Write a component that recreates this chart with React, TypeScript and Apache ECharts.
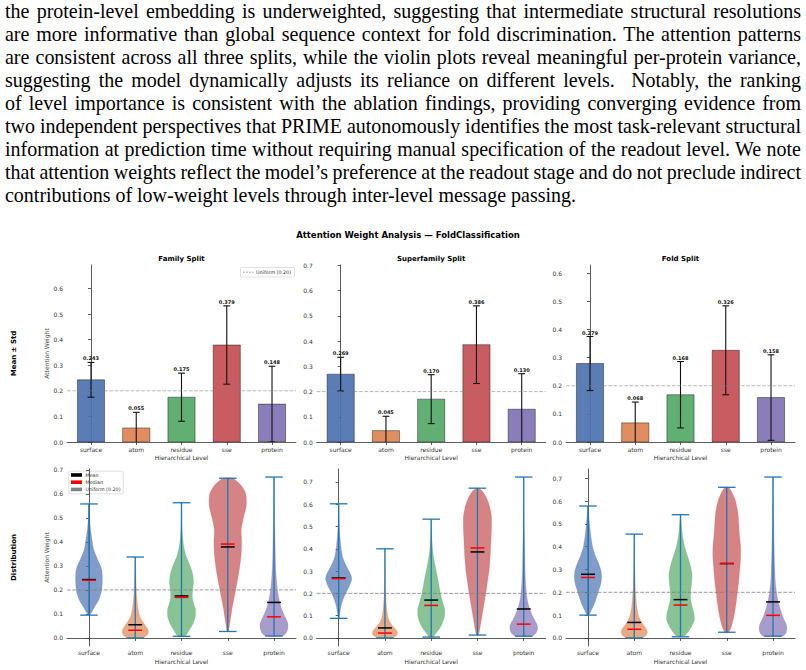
import React, { useEffect, useLayoutEffect, useRef, useState } from "react";
import * as echarts from "echarts";

// ---------- paragraph ----------
const paragraphLines = [
  "the protein-level embedding is underweighted, suggesting that intermediate structural resolutions",
  "are more informative than global sequence context for fold discrimination. The attention patterns",
  "are consistent across all three splits, while the violin plots reveal meaningful per-protein variance,",
  "suggesting the model dynamically adjusts its reliance on different levels.\u00a0 Notably, the ranking",
  "of level importance is consistent with the ablation findings, providing converging evidence from",
  "two independent perspectives that PRIME autonomously identifies the most task-relevant structural",
  "information at prediction time without requiring manual specification of the readout level. We note",
  "that attention weights reflect the model\u2019s preference at the readout stage and do not preclude indirect",
  "contributions of low-weight levels through inter-level message passing.",
];

// ---------- chart data ----------
const figureTitle = "Attention Weight Analysis \u2014 FoldClassification";
const splitTitles = ["Family Split", "Superfamily Split", "Fold Split"];
const rowTitles = ["Mean \u00b1 Std", "Distribution"];
const levels = ["surface", "atom", "residue", "sse", "protein"];
const levelColors = ["#4c72b0", "#dd8452", "#55a868", "#c44e52", "#8172b3"];
const uniformWeight = 0.2;

const familyMean = [0.243, 0.055, 0.175, 0.379, 0.148];
const familyStd = [0.068, 0.061, 0.094, 0.153, 0.148];
const familyMedian = [0.24, 0.032, 0.169, 0.391, 0.088];

const superfamilyMean = [0.269, 0.045, 0.17, 0.386, 0.13];
const superfamilyStd = [0.067, 0.057, 0.097, 0.154, 0.141];
const superfamilyMedian = [0.266, 0.022, 0.146, 0.404, 0.062];

const foldMean = [0.279, 0.068, 0.168, 0.326, 0.158];
const foldStd = [0.096, 0.074, 0.118, 0.158, 0.152];
const foldMedian = [0.265, 0.038, 0.144, 0.326, 0.099];

// violin outlines: [attention weight, full width in category units], from min to max
const familyShapes = [
  [[0.095, 0.02], [0.105, 0.1], [0.13, 0.25], [0.16, 0.43], [0.19, 0.53], [0.22, 0.57], [0.25, 0.58], [0.28, 0.56], [0.3, 0.5], [0.33, 0.36], [0.37, 0.2], [0.41, 0.13], [0.46, 0.06], [0.5, 0.03], [0.558, 0.01]],
  [[0.0, 0.3], [0.01, 0.5], [0.025, 0.57], [0.04, 0.52], [0.06, 0.38], [0.08, 0.25], [0.1, 0.17], [0.13, 0.11], [0.16, 0.08], [0.2, 0.05], [0.25, 0.03], [0.3, 0.015], [0.337, 0.005]],
  [[0.007, 0.15], [0.035, 0.35], [0.06, 0.5], [0.09, 0.6], [0.12, 0.6], [0.146, 0.52], [0.17, 0.47], [0.2, 0.48], [0.23, 0.52], [0.257, 0.5], [0.285, 0.43], [0.31, 0.33], [0.34, 0.2], [0.37, 0.12], [0.4, 0.07], [0.45, 0.03], [0.5, 0.015], [0.563, 0.005]],
  [[0.027, 0.03], [0.05, 0.07], [0.08, 0.12], [0.12, 0.18], [0.16, 0.26], [0.2, 0.34], [0.25, 0.44], [0.3, 0.52], [0.35, 0.58], [0.4, 0.6], [0.45, 0.58], [0.5, 0.68], [0.55, 0.8], [0.6, 0.78], [0.63, 0.62], [0.65, 0.42], [0.665, 0.2]],
  [[0.008, 0.35], [0.02, 0.52], [0.04, 0.6], [0.06, 0.6], [0.08, 0.52], [0.1, 0.42], [0.13, 0.3], [0.16, 0.22], [0.2, 0.15], [0.25, 0.1], [0.3, 0.07], [0.35, 0.055], [0.4, 0.045], [0.45, 0.03], [0.5, 0.02], [0.6, 0.01], [0.67, 0.005]],
];

const superfamilyShapes = [
  [[0.088, 0.02], [0.11, 0.05], [0.14, 0.1], [0.17, 0.18], [0.2, 0.3], [0.23, 0.45], [0.26, 0.56], [0.28, 0.54], [0.3, 0.45], [0.33, 0.3], [0.36, 0.18], [0.4, 0.11], [0.45, 0.06], [0.5, 0.03], [0.55, 0.015], [0.602, 0.005]],
  [[0.0, 0.3], [0.01, 0.48], [0.02, 0.55], [0.035, 0.5], [0.05, 0.36], [0.07, 0.22], [0.09, 0.14], [0.12, 0.09], [0.15, 0.06], [0.2, 0.035], [0.25, 0.02], [0.3, 0.01], [0.4, 0.003]],
  [[0.004, 0.08], [0.02, 0.2], [0.04, 0.35], [0.07, 0.5], [0.1, 0.58], [0.13, 0.58], [0.16, 0.5], [0.2, 0.4], [0.24, 0.33], [0.28, 0.26], [0.32, 0.18], [0.36, 0.11], [0.4, 0.06], [0.45, 0.03], [0.5, 0.012], [0.533, 0.004]],
  [[0.013, 0.04], [0.04, 0.1], [0.1, 0.2], [0.15, 0.28], [0.2, 0.36], [0.25, 0.43], [0.3, 0.5], [0.35, 0.54], [0.4, 0.57], [0.45, 0.59], [0.5, 0.61], [0.55, 0.6], [0.6, 0.5], [0.635, 0.36], [0.66, 0.2], [0.672, 0.06]],
  [[0.008, 0.35], [0.02, 0.52], [0.04, 0.6], [0.06, 0.58], [0.08, 0.48], [0.1, 0.38], [0.13, 0.26], [0.16, 0.18], [0.2, 0.12], [0.25, 0.08], [0.3, 0.06], [0.35, 0.05], [0.4, 0.04], [0.45, 0.03], [0.5, 0.02], [0.6, 0.01], [0.722, 0.004]],
];

const foldShapes = [
  [[0.1, 0.04], [0.12, 0.14], [0.15, 0.28], [0.18, 0.38], [0.21, 0.47], [0.24, 0.56], [0.27, 0.59], [0.3, 0.55], [0.33, 0.45], [0.36, 0.32], [0.4, 0.2], [0.45, 0.12], [0.5, 0.07], [0.55, 0.03], [0.578, 0.01]],
  [[0.0, 0.32], [0.01, 0.5], [0.025, 0.57], [0.04, 0.52], [0.06, 0.38], [0.08, 0.26], [0.1, 0.18], [0.13, 0.12], [0.16, 0.09], [0.2, 0.06], [0.25, 0.04], [0.3, 0.025], [0.35, 0.015], [0.4, 0.008], [0.455, 0.003]],
  [[0.005, 0.1], [0.02, 0.28], [0.05, 0.48], [0.08, 0.6], [0.11, 0.58], [0.14, 0.5], [0.17, 0.44], [0.2, 0.44], [0.24, 0.48], [0.28, 0.5], [0.32, 0.42], [0.36, 0.3], [0.4, 0.18], [0.44, 0.1], [0.48, 0.05], [0.54, 0.01]],
  [[0.025, 0.08], [0.05, 0.2], [0.1, 0.32], [0.15, 0.4], [0.2, 0.46], [0.25, 0.52], [0.3, 0.56], [0.35, 0.6], [0.4, 0.6], [0.45, 0.55], [0.5, 0.52], [0.55, 0.48], [0.6, 0.38], [0.63, 0.26], [0.66, 0.08]],
  [[0.008, 0.4], [0.02, 0.55], [0.04, 0.6], [0.06, 0.57], [0.08, 0.48], [0.1, 0.4], [0.13, 0.3], [0.16, 0.22], [0.2, 0.15], [0.25, 0.1], [0.3, 0.08], [0.35, 0.06], [0.4, 0.05], [0.45, 0.04], [0.5, 0.03], [0.6, 0.015], [0.705, 0.005]],
];

const barSplits = [
  { mean: familyMean, std: familyStd },
  { mean: superfamilyMean, std: superfamilyStd },
  { mean: foldMean, std: foldStd },
];
const violinSplits = [
  { mean: familyMean, median: familyMedian, shapes: familyShapes },
  { mean: superfamilyMean, median: superfamilyMedian, shapes: superfamilyShapes },
  { mean: foldMean, median: foldMedian, shapes: foldShapes },
];

// ---------- layout ----------
const FONT = "DejaVu Sans";
const colLeft = [67, 316.7, 566];
const rowTop = [265, 469];
const panelW = 229;
const panelH = 177;
const TEXT_LEFT = 5;
const TEXT_W = 796;
const LAST_LINE_W = 571;
const TEXT_FS = 21;

function rgba(hex: string, a: number) {
  const n = parseInt(hex.slice(1), 16);
  return `rgba(${(n >> 16) & 255},${(n >> 8) & 255},${n & 255},${a})`;
}

function tickList(max: number) {
  const out: number[] = [];
  for (let k = 0; k <= Math.floor(max * 10 + 1e-6); k++) out.push(+(k / 10).toFixed(1));
  return out;
}

function buildOption() {
  const grid: any[] = [];
  const xAxis: any[] = [];
  const yAxis: any[] = [];
  const series: any[] = [];
  const xTicks = [0, 1, 2, 3, 4];

  const axisCommon = {
    axisLine: { show: true, lineStyle: { color: "#333", width: 0.8 } },
    splitLine: { show: false },
  };

  for (let r = 0; r < 2; r++) {
    for (let c = 0; c < 3; c++) {
      const gi = r * 3 + c;
      grid.push({ left: colLeft[c], top: rowTop[r], width: panelW, height: panelH });

      let xmin: number, xmax: number, ymin: number, ymax: number;
      if (r === 0) {
        const { mean, std } = barSplits[c];
        xmin = -0.53;
        xmax = 4.53;
        ymin = 0;
        ymax = Math.max(...mean.map((m, i) => m + std[i])) * 1.3;
      } else {
        const { shapes } = violinSplits[c];
        const lo = Math.min(...shapes.map((s) => s[0][0]));
        const hi = Math.max(...shapes.map((s) => s[s.length - 1][0]));
        const pad = (hi - lo) * 0.05;
        xmin = -0.475;
        xmax = 4.475;
        ymin = lo - pad;
        ymax = hi + pad;
      }
      const yTicks = tickList(ymax);

      xAxis.push({
        type: "value",
        gridIndex: gi,
        min: xmin,
        max: xmax,
        ...axisCommon,
        axisTick: { show: true, customValues: xTicks, length: 3, lineStyle: { color: "#333", width: 0.8 } },
        axisLabel: {
          customValues: xTicks,
          formatter: (v: number) => levels[Math.round(v)] ?? "",
          fontSize: 6,
          fontFamily: FONT,
          color: "#333",
          margin: r === 0 ? 4 : 3.7,
        },
        name: "Hierarchical Level",
        nameLocation: "middle",
        nameGap: r === 0 ? 12 : 12.7,
        nameTextStyle: { fontSize: 6, fontFamily: FONT, color: "#333" },
      });
      yAxis.push({
        type: "value",
        gridIndex: gi,
        min: ymin,
        max: ymax,
        ...axisCommon,
        axisTick: { show: true, customValues: yTicks, length: 3, lineStyle: { color: "#333", width: 0.8 } },
        axisLabel: {
          customValues: yTicks,
          formatter: (v: number) => v.toFixed(1),
          fontSize: 6,
          fontFamily: FONT,
          color: "#333",
          margin: 4,
        },
        name: c === 0 ? "Attention Weight" : "",
        nameLocation: "middle",
        nameGap: 16,
        nameTextStyle: { fontSize: 6, fontFamily: FONT, color: "#444" },
      });

      if (r === 0) {
        const { mean, std } = barSplits[c];
        series.push({
          type: "custom",
          xAxisIndex: gi,
          yAxisIndex: gi,
          clip: true,
          silent: true,
          z: 2,
          data: levels.map((_, i) => [i, mean[i], std[i]]),
          renderItem: (_p: any, api: any) => {
            const i = api.value(0);
            const m = api.value(1);
            const s = api.value(2);
            const a = api.coord([i - 0.3, m]);
            const b = api.coord([i + 0.3, 0]);
            const top = api.coord([i, m + s]);
            const bot = api.coord([i, m - s]);
            const capL = api.coord([i - 0.075, 0])[0];
            const capR = api.coord([i + 0.075, 0])[0];
            const errStyle = { stroke: "#111", lineWidth: 1.1 };
            return {
              type: "group",
              children: [
                {
                  type: "rect",
                  shape: { x: a[0], y: a[1], width: b[0] - a[0], height: b[1] - a[1] },
                  style: { fill: rgba(levelColors[i], 0.92), stroke: "rgba(0,0,0,0.5)", lineWidth: 0.8 },
                },
                { type: "line", shape: { x1: top[0], y1: top[1], x2: bot[0], y2: bot[1] }, style: errStyle },
                { type: "line", shape: { x1: capL, y1: top[1], x2: capR, y2: top[1] }, style: errStyle },
                { type: "line", shape: { x1: capL, y1: bot[1], x2: capR, y2: bot[1] }, style: errStyle },
                {
                  type: "text",
                  x: top[0],
                  y: top[1] - 1.5,
                  style: {
                    text: m.toFixed(3),
                    fontSize: 5,
                    fontWeight: "bold",
                    fontFamily: FONT,
                    fill: "#111",
                    align: "center",
                    verticalAlign: "bottom",
                  },
                },
              ],
            };
          },
        });
      } else {
        const { mean, median, shapes } = violinSplits[c];
        series.push({
          type: "custom",
          xAxisIndex: gi,
          yAxisIndex: gi,
          clip: true,
          silent: true,
          z: 2,
          data: levels.map((_, i) => [i, mean[i], median[i]]),
          renderItem: (_p: any, api: any) => {
            const i = api.value(0);
            const mn = api.value(1);
            const md = api.value(2);
            const shape = shapes[i];
            const left = shape.map(([y, w]) => api.coord([i - w / 2, y]));
            const right = shape
              .slice()
              .reverse()
              .map(([y, w]) => api.coord([i + w / 2, y]));
            const yLo = shape[0][0];
            const yHi = shape[shape.length - 1][0];
            const pLo = api.coord([i, yLo]);
            const pHi = api.coord([i, yHi]);
            const cL = api.coord([i - 0.19, 0])[0];
            const cR = api.coord([i + 0.19, 0])[0];
            const mL = api.coord([i - 0.15, 0])[0];
            const mR = api.coord([i + 0.15, 0])[0];
            const yMean = api.coord([i, mn])[1];
            const yMed = api.coord([i, md])[1];
            const barStyle = { stroke: "#1f77b4", lineWidth: 1.3 };
            return {
              type: "group",
              children: [
                {
                  type: "polygon",
                  shape: { points: left.concat(right), smooth: 0.25 },
                  style: { fill: rgba(levelColors[i], 0.7), stroke: rgba(levelColors[i], 0.4), lineWidth: 0.5 },
                },
                { type: "line", shape: { x1: pLo[0], y1: pLo[1], x2: pHi[0], y2: pHi[1] }, style: barStyle },
                { type: "line", shape: { x1: cL, y1: pLo[1], x2: cR, y2: pLo[1] }, style: barStyle },
                { type: "line", shape: { x1: cL, y1: pHi[1], x2: cR, y2: pHi[1] }, style: barStyle },
                { type: "line", shape: { x1: mL, y1: yMean, x2: mR, y2: yMean }, style: { stroke: "#000", lineWidth: 1.5 } },
                { type: "line", shape: { x1: mL, y1: yMed, x2: mR, y2: yMed }, style: { stroke: "#ff0000", lineWidth: 1.5 } },
              ],
            };
          },
        });
      }

      // uniform reference line
      series.push({
        type: "line",
        xAxisIndex: gi,
        yAxisIndex: gi,
        silent: true,
        symbol: "none",
        z: 3,
        data: [
          [xmin, uniformWeight],
          [xmax, uniformWeight],
        ],
        lineStyle: { color: "#808080", width: 1, type: [3.7, 1.6], opacity: r === 0 ? 0.55 : 0.8 },
      });
    }
  }

  const graphic: any[] = [
    {
      type: "text",
      x: 408,
      y: 235,
      style: { text: figureTitle, fontSize: 8.5, fontWeight: "bold", fontFamily: FONT, fill: "#000", align: "center", verticalAlign: "middle" },
    },
  ];
  splitTitles.forEach((t, c) => {
    graphic.push({
      type: "text",
      x: colLeft[c] + panelW / 2,
      y: 259,
      style: { text: t, fontSize: 7, fontWeight: "bold", fontFamily: FONT, fill: "#000", align: "center", verticalAlign: "middle" },
    });
  });
  rowTitles.forEach((t, r) => {
    graphic.push({
      type: "text",
      x: 14,
      y: rowTop[r] + panelH / 2,
      rotation: Math.PI / 2,
      style: { text: t, fontSize: 7, fontWeight: "bold", fontFamily: FONT, fill: "#000", align: "center", verticalAlign: "middle" },
    });
  });

  // legend of the first bar panel
  graphic.push(
    { type: "rect", shape: { x: 240.5, y: 267.5, width: 54, height: 9.5, r: 1 }, style: { fill: "#fff", stroke: "#cccccc", lineWidth: 0.6 } },
    { type: "line", shape: { x1: 243, y1: 272.2, x2: 253.5, y2: 272.2 }, style: { stroke: "#999", lineWidth: 0.8, lineDash: [2, 1] } },
    { type: "text", x: 256, y: 272.2, style: { text: "Uniform (0.20)", fontSize: 4.8, fontFamily: FONT, fill: "#333", verticalAlign: "middle" } }
  );

  // legend of the first violin panel
  const legendItems = [
    { label: "Mean", color: "#000000" },
    { label: "Median", color: "#ff0000" },
    { label: "Uniform (0.20)", color: "#808080" },
  ];
  graphic.push({ type: "rect", shape: { x: 68.8, y: 471.2, width: 54.5, height: 22.6, r: 1 }, style: { fill: "#fff", stroke: "#cccccc", lineWidth: 0.6 } });
  legendItems.forEach((it, k) => {
    const cy = 475 + k * 7.2;
    graphic.push(
      { type: "rect", shape: { x: 71, y: cy - 1.8, width: 11, height: 3.6 }, style: { fill: it.color } },
      { type: "text", x: 85.5, y: cy, style: { text: it.label, fontSize: 4.8, fontFamily: FONT, fill: "#333", verticalAlign: "middle" } }
    );
  });

  return {
    animation: false,
    backgroundColor: "transparent",
    textStyle: { fontFamily: FONT },
    grid,
    xAxis,
    yAxis,
    series,
    graphic,
  };
}

// Justified paragraph: a uniform horizontal scale taken from the ragged last
// line, with interword spacing tightened on lines that would otherwise overflow.
function Paragraph() {
  const [layout, setLayout] = useState<{ scale: number; spacing: number[] }>({
    scale: 1,
    spacing: paragraphLines.map(() => 0),
  });
  useLayoutEffect(() => {
    const ctx = document.createElement("canvas").getContext("2d");
    if (!ctx) return;
    ctx.font = `${TEXT_FS}px "Liberation Serif"`;
    const last = paragraphLines.length - 1;
    const lastW = ctx.measureText(paragraphLines[last]).width;
    if (!(lastW > 0)) return;
    const scale = Math.min(1.15, Math.max(0.8, LAST_LINE_W / lastW));
    const boxW = TEXT_W / scale;
    const spacing = paragraphLines.map((l, i) => {
      if (i === last) return 0;
      const w = ctx.measureText(l).width;
      const gaps = (l.match(/ /g) || []).length;
      if (w + 1 <= boxW || gaps === 0) return 0;
      return (boxW - w - 1) / gaps;
    });
    setLayout({ scale, spacing });
  }, []);
  const last = paragraphLines.length - 1;
  return (
    <div
      style={{
        position: "absolute",
        left: TEXT_LEFT,
        top: 0,
        width: TEXT_W / layout.scale,
        transform: `scaleX(${layout.scale})`,
        transformOrigin: "0 0",
        fontFamily: '"Liberation Serif", "Times New Roman", serif',
        fontSize: TEXT_FS,
        lineHeight: "23px",
        color: "#000",
        zIndex: 2,
      }}
    >
      {paragraphLines.map((l, i) => (
        <div
          key={i}
          style={{
            whiteSpace: "nowrap",
            wordSpacing: layout.spacing[i],
            textAlign: i < last ? "justify" : "left",
            textAlignLast: i < last ? "justify" : "left",
          }}
        >
          {l}
        </div>
      ))}
    </div>
  );
}

export default function App() {
  const ref = useRef<HTMLDivElement>(null);
  useEffect(() => {
    if (!ref.current) return;
    const chart = echarts.init(ref.current, null, { renderer: "svg" });
    chart.setOption(buildOption() as any);
    return () => chart.dispose();
  }, []);
  return (
    <div style={{ position: "absolute", left: 0, top: 0, width: 806, height: 670, background: "#fff" }}>
      <div ref={ref} style={{ position: "absolute", left: 0, top: 0, width: 806, height: 670 }} />
      <Paragraph />
    </div>
  );
}
